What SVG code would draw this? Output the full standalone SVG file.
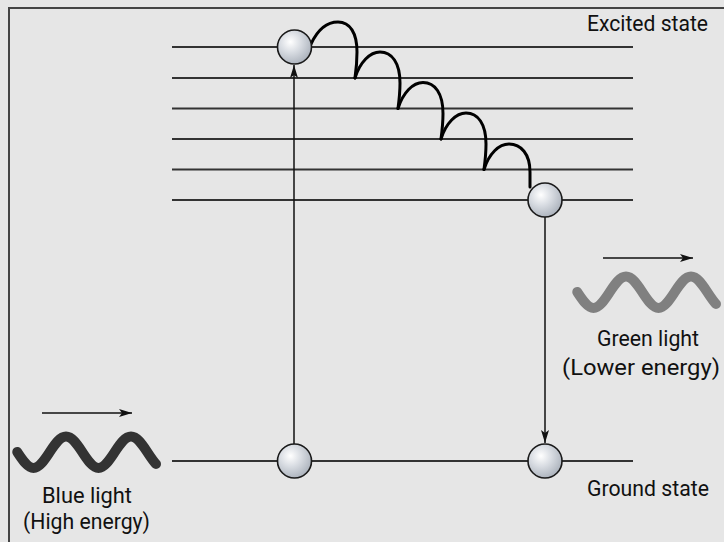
<svg xmlns="http://www.w3.org/2000/svg" width="724" height="542" viewBox="0 0 724 542">
<style>
.lvl{stroke:#333;stroke-width:2;fill:none}
.ball{fill:url(#gb);stroke:#1a1a1a;stroke-width:1.6}
.arr{stroke:#111;stroke-width:1.5;fill:none}
.hop{stroke:#000;stroke-width:3;fill:none;stroke-linecap:round}
.wave{fill:none;stroke-width:10;stroke-linecap:round}
.t{font-family:Roboto,"Liberation Sans",sans-serif;font-size:22.5px;fill:#111;text-anchor:middle}
</style>
<defs>
<radialGradient id="gb" cx="0.38" cy="0.35" r="0.7">
<stop offset="0" stop-color="#ffffff"/>
<stop offset="0.45" stop-color="#d8dce2"/>
<stop offset="1" stop-color="#a9b0ba"/>
</radialGradient>
<marker id="ah" markerUnits="userSpaceOnUse" markerWidth="14" markerHeight="10" viewBox="0 0 14 10" refX="13" refY="5" orient="auto">
<path d="M0,1 L13,5 L0,9 L3,5 z" fill="#111"/>
</marker>
<path id="wv" d="M14.25,451 C19.54,459 24.65,467 30.5,467 C36.35,467 41.46,459 46.75,451 C52.04,443 57.15,435.5 63,435.5 C68.85,435.5 73.96,443 79.25,451 C84.54,459 89.65,467 95.5,467 C101.35,467 106.46,459 111.75,451 C117.04,443 122.15,435.5 128,435.5 C133.85,435.5 138.96,443 144.25,451 C148.5,457.5 151,461 153,463"/>
</defs>
<rect width="724" height="542" fill="#e6e6e6"/>
<path d="M9,542 V8 H724" fill="none" stroke="#444" stroke-width="2"/>
<g id="levels">
<line class="lvl" x1="172" y1="47" x2="633" y2="47"/>
<line class="lvl" x1="172" y1="78" x2="633" y2="78"/>
<line class="lvl" x1="172" y1="108.5" x2="633" y2="108.5"/>
<line class="lvl" x1="172" y1="139" x2="633" y2="139"/>
<line class="lvl" x1="172" y1="169.5" x2="633" y2="169.5"/>
<line class="lvl" x1="172" y1="200" x2="633" y2="200"/>
<line class="lvl" x1="172" y1="461" x2="633" y2="461"/>
</g>
<g id="connectors">
<line class="arr" x1="294" y1="444" x2="294" y2="65" marker-end="url(#ah)"/>
<line class="arr" x1="545" y1="217" x2="545" y2="443" marker-end="url(#ah)"/>
<line class="arr" x1="42" y1="413" x2="132" y2="413" marker-end="url(#ah)"/>
<line class="arr" x1="603" y1="258" x2="693" y2="258" marker-end="url(#ah)"/>
<path class="hop" d="M311,44 C318,29 328,22 338,22 C350,22 357,33 357,52 C357,63 356,71 355,78"/>
<path class="hop" d="M355,78 C360,62 370,52 380,52 C392,52 400,63 400,83 C400,93 399,101 398,108.5"/>
<path class="hop" d="M398,108.5 C403,92.5 413,82.5 423,82.5 C435,82.5 443,93.5 443,113.5 C443,123.5 442,131.5 441,139"/>
<path class="hop" d="M441,139 C446,123 456,113 466,113 C478,113 486,124 486,144 C486,154 485,162 484,169.5"/>
<path class="hop" d="M484,169.5 C489,153.5 499,144 509,144 C521,144 530,154 530,172 C530,178 530,183 530,187"/>
</g>
<g id="electron-excited-top"><circle class="ball" cx="294.5" cy="47" r="17"/></g>
<g id="electron-excited-bottom"><circle class="ball" cx="545" cy="200" r="17"/></g>
<g id="electron-ground-left"><circle class="ball" cx="294.5" cy="461" r="17"/></g>
<g id="electron-ground-right"><circle class="ball" cx="545" cy="461" r="17"/></g>
<g id="blue-light">
<use href="#wv" class="wave" stroke="#333" transform="translate(3,1)"/>
<text class="t" x="87" y="503" textLength="90" lengthAdjust="spacingAndGlyphs">Blue light</text>
<text class="t" x="86.5" y="529" textLength="127" lengthAdjust="spacingAndGlyphs">(High energy)</text>
</g>
<g id="green-light">
<use href="#wv" class="wave" stroke="#808080" transform="translate(563,-159)"/>
<text class="t" x="648" y="346" textLength="102" lengthAdjust="spacingAndGlyphs">Green light</text>
<text class="t" x="641" y="375" textLength="158" lengthAdjust="spacingAndGlyphs">(Lower energy)</text>
</g>
<g id="labels">
<text class="t" x="647.5" y="31" textLength="121" lengthAdjust="spacingAndGlyphs">Excited state</text>
<text class="t" x="648" y="496" textLength="122" lengthAdjust="spacingAndGlyphs">Ground state</text>
</g>
</svg>
